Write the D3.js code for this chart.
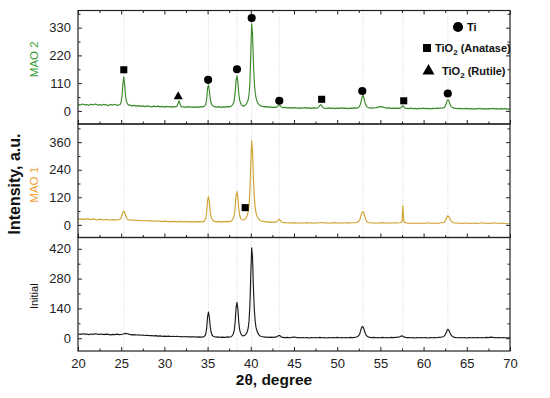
<!DOCTYPE html>
<html><head><meta charset="utf-8">
<script src="https://cdn.jsdelivr.net/npm/d3@7"></script>
<style>body{margin:0;background:#fff}svg{display:block;font-family:"Liberation Sans",Arial,sans-serif}</style>
</head><body><svg id="c" width="550" height="398"></svg>
<script>
// ---------- DATA ----------
const samples = ["MAO 2", "MAO 1", "Initial"];
const xTicks = [20,25,30,35,40,45,50,55,60,65,70];
const yTicksMao2 = [0,110,220,330];
const yTicksMao1 = [0,120,240,360];
const yTicksInitial = [0,140,280,420];
const phases = ["Ti", "TiO2 (Anatase)", "TiO2 (Rutile)"];
// [2theta, intensity]
const mao2 = [[20,26],[20.25,23],[20.5,27],[20.75,24],[21,25],[21.25,22],[21.5,26],[21.75,24],[22,27],[22.25,23],[22.5,25],[22.75,22],[23,26],[23.25,24],[23.5,21],[23.75,25],[24,23],[24.25,26],[24.5,22],[24.75,24],
[24.9,26],[25,36],[25.1,62],[25.2,108],[25.3,135],[25.4,105],[25.5,60],[25.6,38],[25.7,29],[25.8,25],
[26,23],[26.25,20],[26.5,22],[26.75,19],[27,21],[27.25,18],[27.5,20],[27.75,17],[28,20],[28.25,18],[28.5,16],[28.75,19],[29,17],[29.25,19],[29.5,16],[29.75,18],[30,15],[30.25,18],[30.5,16],[30.75,17],[31,15],[31.25,17],
[31.4,17],[31.5,21],[31.6,31],[31.7,40],[31.8,28],[31.9,20],[32,16],
[32.25,16],[32.5,14],[32.75,17],[33,15],[33.25,16],[33.5,14],[33.75,16],[34,15],[34.25,17],[34.5,16],
[34.6,18],[34.7,21],[34.8,28],[34.9,50],[35,90],[35.1,103],[35.2,82],[35.3,50],[35.4,32],[35.5,24],[35.6,20],[35.7,18],[35.8,17],
[36,15],[36.25,17],[36.5,14],[36.75,16],[37,15],[37.25,17],[37.5,16],
[37.6,17],[37.7,18],[37.8,21],[37.9,25],[38,31],[38.1,45],[38.2,78],[38.3,122],[38.4,139],[38.5,115],[38.6,72],[38.7,45],[38.8,32],[38.9,25],[39,21],[39.1,19],[39.2,20],[39.3,21],[39.4,24],[39.5,28],[39.6,35],[39.7,45],[39.8,65],[39.9,115],[40,230],[40.1,345],[40.2,305],[40.3,195],[40.4,118],[40.5,75],[40.6,52],[40.7,40],[40.8,32],[40.9,27],[41,23],[41.1,21],[41.2,19],
[41.4,18],[41.6,16],[41.8,17],[42,15],[42.25,16],[42.5,14],[42.75,15],
[42.9,14],[43,15],[43.1,18],[43.2,22],[43.3,24],[43.4,21],[43.5,17],[43.6,14],[43.7,13],
[44,14],[44.25,12],[44.5,13],[44.75,11],[45,13],[45.25,12],[45.5,10],[45.75,12],[46,11],[46.25,13],[46.5,11],[46.75,12],[47,10],[47.25,12],[47.5,11],
[47.7,11],[47.8,14],[47.9,17],[48,22],[48.1,25],[48.2,21],[48.3,16],[48.4,12],[48.5,11],
[48.75,10],[49,12],[49.25,10],[49.5,11],[49.75,9],[50,11],[50.25,10],[50.5,12],[50.75,10],[51,11],[51.25,9],[51.5,11],[51.75,10],[52,12],[52.25,11],
[52.4,12],[52.5,15],[52.6,19],[52.7,28],[52.8,43],[52.9,58],[53,61],[53.1,50],[53.2,35],[53.3,24],[53.4,18],[53.5,15],[53.6,13],[53.7,12],[53.8,12],
[54,11],[54.25,12],[54.5,13],[54.75,15],[55,17],[55.25,16],[55.5,13],[55.75,11],[56,12],[56.25,10],[56.5,11],[56.75,10],[57,11],
[57.2,10],[57.3,11],[57.4,14],[57.5,18],[57.6,21],[57.7,17],[57.8,12],[57.9,10],[58,10],
[58.25,9],[58.5,11],[58.75,9],[59,10],[59.25,8],[59.5,10],[59.75,9],[60,11],[60.25,9],[60.5,10],[60.75,8],[61,10],[61.25,9],[61.5,11],[61.75,10],[62,11],[62.25,12],
[62.4,14],[62.5,19],[62.6,27],[62.7,38],[62.8,44],[62.9,41],[63,32],[63.1,23],[63.2,17],[63.3,14],[63.4,12],[63.5,11],[63.6,10],
[63.75,10],[64,9],[64.25,10],[64.5,8],[64.75,9],[65,10],[65.25,8],[65.5,9],[65.75,7],[66,9],[66.25,8],[66.5,10],[66.75,8],[67,9],[67.25,7],[67.5,9],[67.75,8],[68,10],[68.25,8],[68.5,9],[68.75,7],[69,9],[69.25,8],[69.5,9],[69.75,7],[70,8]];

const mao1 = [[20,27],[20.25,24],[20.5,26],[20.75,23],[21,27],[21.25,25],[21.5,22],[21.75,26],[22,24],[22.25,21],[22.5,25],[22.75,23],[23,21],[23.25,24],[23.5,22],[23.75,20],[24,23],[24.25,21],[24.5,22],[24.75,23],
[24.9,26],[25,33],[25.1,44],[25.2,55],[25.3,60],[25.4,54],[25.5,42],[25.6,32],[25.7,25],[25.8,22],
[26,20],[26.25,22],[26.5,19],[26.75,21],[27,18],[27.25,20],[27.5,17],[27.75,19],[28,18],[28.25,16],[28.5,18],[28.75,17],[29,15],[29.25,17],[29.5,16],[29.75,14],[30,16],[30.25,15],[30.5,13],[30.75,15],[31,14],[31.25,15],
[31.5,13],[31.75,15],[32,14],[32.25,13],[32.5,15],[32.75,13],[33,14],[33.25,12],[33.5,14],[33.75,13],[34,14],[34.25,13],[34.5,14],
[34.6,16],[34.7,21],[34.8,30],[34.9,58],[35,105],[35.1,123],[35.2,100],[35.3,60],[35.4,36],[35.5,26],[35.6,20],[35.7,17],[35.8,15],
[36,13],[36.25,15],[36.5,12],[36.75,14],[37,13],[37.25,15],[37.5,14],
[37.6,15],[37.7,16],[37.8,19],[37.9,23],[38,30],[38.1,45],[38.2,82],[38.3,128],[38.4,145],[38.5,120],[38.6,72],[38.7,44],[38.8,31],[38.9,25],[39,22],[39.1,21],[39.2,22],[39.3,24],[39.4,27],[39.5,33],[39.6,42],[39.7,58],[39.8,85],[39.9,150],[40,265],[40.1,365],[40.2,320],[40.3,205],[40.4,125],[40.5,78],[40.6,54],[40.7,40],[40.8,32],[40.9,26],[41,22],[41.1,19],[41.2,17],
[41.4,15],[41.6,14],[41.8,13],[42,12],[42.25,13],[42.5,11],[42.75,12],
[42.9,12],[43,14],[43.1,17],[43.2,22],[43.3,25],[43.4,21],[43.5,15],[43.6,11],[43.7,10],
[44,10],[44.25,8],[44.5,9],[44.75,8],[45,10],[45.25,8],[45.5,9],[45.75,7],[46,9],[46.25,8],[46.5,10],[46.75,8],[47,9],[47.25,7],[47.5,9],[47.75,8],[48,9],[48.25,10],[48.5,8],[48.75,9],[49,7],[49.25,9],[49.5,8],[49.75,10],[50,8],[50.25,9],[50.5,7],[50.75,9],[51,8],[51.25,10],[51.5,8],[51.75,9],[52,9],[52.25,10],
[52.4,12],[52.5,15],[52.6,21],[52.7,33],[52.8,47],[52.9,56],[53,58],[53.1,50],[53.2,36],[53.3,24],[53.4,16],[53.5,12],[53.6,10],[53.7,9],[53.8,9],
[54,8],[54.25,9],[54.5,7],[54.75,9],[55,8],[55.25,10],[55.5,8],[55.75,9],[56,7],[56.25,9],[56.5,8],[56.75,9],[57,8],[57.2,9],[57.3,10],
[57.4,11],[57.5,15],[57.6,83],[57.7,17],[57.8,11],[57.9,8],[58,9],
[58.25,7],[58.5,8],[58.75,6],[59,8],[59.25,7],[59.5,8],[59.75,6],[60,8],[60.25,7],[60.5,9],[60.75,7],[61,8],[61.25,6],[61.5,8],[61.75,7],[62,9],[62.25,10],
[62.4,12],[62.5,17],[62.6,25],[62.7,34],[62.8,39],[62.9,37],[63,30],[63.1,22],[63.2,16],[63.3,12],[63.4,10],[63.5,9],[63.6,8],
[63.75,8],[64,7],[64.25,8],[64.5,6],[64.75,8],[65,7],[65.25,8],[65.5,6],[65.75,7],[66,8],[66.25,6],[66.5,7],[66.75,9],[67,7],[67.25,8],[67.5,6],[67.75,8],[68,7],[68.25,9],[68.5,7],[68.75,6],[69,8],[69.25,7],[69.5,6],[69.75,5],[70,4]];

const initial = [[20,20],[20.25,18],[20.5,21],[20.75,19],[21,20],[21.25,17],[21.5,20],[21.75,18],[22,21],[22.25,19],[22.5,18],[22.75,20],[23,17],[23.25,19],[23.5,18],[23.75,16],[24,18],[24.25,17],[24.5,19],[24.75,17],[25,18],[25.25,20],[25.5,23],[25.75,21],[26,18],[26.25,16],[26.5,17],[26.75,15],[27,16],[27.25,14],[27.5,15],[27.75,13],[28,14],[28.25,12],[28.5,13],[28.75,11],[29,12],[29.25,10],[29.5,11],[29.75,9],[30,10],[30.25,9],[30.5,10],[30.75,8],[31,9],[31.25,8],[31.5,9],[31.75,7],[32,8],[32.25,7],[32.5,8],[32.75,6],[33,7],[33.25,6],[33.5,7],[33.75,5],[34,6],[34.25,5],[34.5,6],
[34.6,8],[34.7,12],[34.8,22],[34.9,50],[35,102],[35.1,123],[35.2,100],[35.3,56],[35.4,29],[35.5,17],[35.6,11],[35.7,8],[35.8,7],
[36,5],[36.25,6],[36.5,4],[36.75,5],[37,4],[37.25,6],[37.5,5],
[37.6,6],[37.7,7],[37.8,10],[37.9,15],[38,23],[38.1,40],[38.2,82],[38.3,145],[38.4,168],[38.5,140],[38.6,78],[38.7,42],[38.8,26],[38.9,17],[39,13],[39.1,11],[39.2,12],[39.3,14],[39.4,17],[39.5,23],[39.6,32],[39.7,48],[39.8,82],[39.9,160],[40,300],[40.1,425],[40.2,380],[40.3,240],[40.4,140],[40.5,82],[40.6,52],[40.7,36],[40.8,25],[40.9,18],[41,13],[41.1,10],[41.2,8],
[41.4,7],[41.6,5],[41.8,6],[42,4],[42.25,5],[42.5,4],[42.75,5],
[42.9,5],[43,7],[43.1,9],[43.2,12],[43.3,13],[43.4,11],[43.5,7],[43.6,4],[43.7,4],
[44,3],[44.25,4],[44.5,2],[44.75,4],[45,6],[45.25,4],[45.5,3],[45.75,2],[46,3],[46.25,2],[46.5,3],[46.75,1],[47,3],[47.25,2],[47.5,3],[47.75,2],[48,4],[48.25,2],[48.5,3],[48.75,1],[49,3],[49.25,2],[49.5,3],[49.75,2],[50,4],[50.25,2],[50.5,3],[50.75,2],[51,3],[51.25,2],[51.5,4],[51.75,3],[52,4],[52.25,6],
[52.4,9],[52.5,13],[52.6,20],[52.7,33],[52.8,48],[52.9,55],[53,53],[53.1,42],[53.2,29],[53.3,19],[53.4,12],[53.5,8],[53.6,6],[53.7,5],[53.8,4],
[54,3],[54.25,4],[54.5,2],[54.75,3],[55,2],[55.25,4],[55.5,2],[55.75,3],[56,2],[56.25,4],[56.5,3],[56.75,4],[57,5],
[57.2,6],[57.3,8],[57.4,10],[57.5,11],[57.6,9],[57.7,7],[57.8,5],[57.9,4],[58,3],
[58.25,3],[58.5,2],[58.75,3],[59,1],[59.25,3],[59.5,2],[59.75,3],[60,2],[60.25,3],[60.5,1],[60.75,3],[61,2],[61.25,3],[61.5,2],[61.75,4],[62,5],[62.25,7],
[62.4,11],[62.5,16],[62.6,24],[62.7,35],[62.8,42],[62.9,39],[63,30],[63.1,21],[63.2,14],[63.3,10],[63.4,7],[63.5,5],[63.6,4],
[63.75,3],[64,2],[64.25,3],[64.5,2],[64.75,3],[65,1],[65.25,3],[65.5,2],[65.75,3],[66,2],[66.25,3],[66.5,2],[66.75,3],[67,2],[67.25,4],[67.5,3],[67.75,5],[68,4],[68.25,3],[68.5,2],[68.75,3],[69,2],[69.25,3],[69.5,2],[69.75,1],[70,3]];

// phase markers: panel index, phase index, 2theta, intensity
const markerPanel = [0,0,0,0,0,0,0,0,0,0,1];
const markerPhase = [1,2,0,0,0,0,1,0,1,0,1];
const markerX =     [25.3,31.6,35.06,38.4,40.1,43.3,48.2,52.9,57.7,62.8,39.35];
const markerY =     [163,57,123,165,368,40,46,79,40,69,75];
const refLines = [25.3,35.1,38.4,40.1,43.3,53.0,57.6,62.8];

// ---------- LAYOUT ----------
const L = 78, R = 510;
const bands = [[10.5,124],[124,237.5],[237.5,351]];
const domains = [[-52,398],[-55,439],[-60,473]];
const series = [mao2, mao1, initial];
const yTicks = [yTicksMao2, yTicksMao1, yTicksInitial];
const lineColors = ["#3b8a2c","#cfa332","#1a1a1a"];
const labelColors = ["#3a9e3a","#f3a23a","#111111"];

const svg = d3.select("#c");
const x = d3.scaleLinear().domain([20,70]).range([L,R]);
const xMinor = d3.range(22.5, 70, 5);

// reference dotted lines
svg.append("g").selectAll("line").data(refLines).join("line")
  .attr("x1", d => x(d)).attr("x2", d => x(d))
  .attr("y1", bands[0][0]).attr("y2", bands[2][1])
  .attr("stroke", "#c4c4c4").attr("stroke-width", 0.8).attr("stroke-dasharray", "1,2");

const ys = [];
bands.forEach((b, i) => {
  const y = d3.scaleLinear().domain(domains[i]).range([b[1], b[0]]);
  ys.push(y);
  const g = svg.append("g");
  const step = yTicks[i][1] - yTicks[i][0];
  const yMinor = d3.range(step/2, domains[i][1], step);

  g.append("clipPath").attr("id", "cp"+i).append("rect")
    .attr("x", L).attr("y", b[0]).attr("width", R-L).attr("height", b[1]-b[0]);
  g.append("path").datum(series[i])
    .attr("clip-path", `url(#cp${i})`)
    .attr("fill", "none").attr("stroke", lineColors[i]).attr("stroke-width", 1.15)
    .attr("stroke-linejoin", "round")
    .attr("d", d3.line().x(d => x(d[0])).y(d => y(d[1])));

  const styleAxis = sel => { sel.select(".domain").remove(); sel.selectAll("line").attr("stroke", "#222"); sel.selectAll("text").attr("font-size", 13).attr("fill", "#222").attr("font-family", '"Liberation Sans", Arial, sans-serif'); };

  g.append("g").attr("transform", `translate(${L},0)`)
    .call(d3.axisLeft(y).tickValues(yTicks[i]).tickSize(-4).tickPadding(7)).call(styleAxis);
  g.append("g").attr("transform", `translate(${L},0)`)
    .call(d3.axisLeft(y).tickValues(yMinor).tickSize(-2.5).tickFormat("")).call(styleAxis);
  g.append("g").attr("transform", `translate(${R},0)`)
    .call(d3.axisRight(y).tickValues(yTicks[i]).tickSize(-4).tickFormat("")).call(styleAxis);
  g.append("g").attr("transform", `translate(${R},0)`)
    .call(d3.axisRight(y).tickValues(yMinor).tickSize(-2.5).tickFormat("")).call(styleAxis);

  const xb = d3.axisBottom(x).tickValues(xTicks).tickSize(-4).tickPadding(8);
  if (i < 2) xb.tickFormat("");
  g.append("g").attr("transform", `translate(0,${b[1]})`).call(xb).call(styleAxis);
  g.append("g").attr("transform", `translate(0,${b[1]})`)
    .call(d3.axisBottom(x).tickValues(xMinor).tickSize(-2.5).tickFormat("")).call(styleAxis);
  if (i === 0) {
    g.append("g").attr("transform", `translate(0,${b[0]})`)
      .call(d3.axisTop(x).tickValues(xTicks).tickSize(-4).tickFormat("")).call(styleAxis);
    g.append("g").attr("transform", `translate(0,${b[0]})`)
      .call(d3.axisTop(x).tickValues(xMinor).tickSize(-2.5).tickFormat("")).call(styleAxis);
  }
  g.append("rect").attr("x", L).attr("y", b[0]).attr("width", R-L).attr("height", b[1]-b[0])
    .attr("fill", "none").attr("stroke", "#222").attr("stroke-width", 1.2);

  // sample labels
  svg.append("text").attr("transform", `translate(38,${(b[0]+b[1])/2 + (i===0?-8:(i===1?4:2))}) rotate(-90)`)
    .attr("text-anchor", "middle").attr("font-size", i===2 ? 11 : 11.5).attr("fill", labelColors[i])
    .text(samples[i]);
});

// markers
const symType = [d3.symbolCircle, d3.symbolSquare, d3.symbolTriangle];
const symSize = [52, 50, 36];
markerX.forEach((mx, k) => {
  const y = ys[markerPanel[k]];
  svg.append("path")
    .attr("transform", `translate(${x(mx)},${y(markerY[k])})`)
    .attr("d", d3.symbol().type(symType[markerPhase[k]]).size(symSize[markerPhase[k]])())
    .attr("fill", "#000");
});

// legend
const lg = svg.append("g").attr("font-weight", "bold").attr("font-size", 11).attr("fill", "#111");
const legPos = [[458,27,467],[427,48,435],[428.5,71,442]];
const legSize = [80, 64, 62];
phases.forEach((p, k) => {
  lg.append("path").attr("transform", `translate(${legPos[k][0]},${legPos[k][1]})`)
    .attr("d", d3.symbol().type(symType[k]).size(legSize[k])()).attr("fill", "#000");
  const t = lg.append("text").attr("x", legPos[k][2]).attr("y", legPos[k][1] + 4);
  if (k === 0) t.text(p);
  else {
    t.append("tspan").text("TiO");
    t.append("tspan").attr("font-size", 8).attr("dy", 3).text("2");
    t.append("tspan").attr("dy", -3).text(p.slice(4));
  }
});

// axis titles
svg.append("text").attr("transform", "translate(20,184) rotate(-90)")
  .attr("text-anchor", "middle").attr("font-weight", "bold").attr("font-size", 16).attr("fill", "#111")
  .text("Intensity, a.u.");
svg.append("text").attr("x", 274).attr("y", 385)
  .attr("text-anchor", "middle").attr("font-weight", "bold").attr("font-size", 15.5).attr("fill", "#111")
  .text("2θ, degree");
</script></body></html>
